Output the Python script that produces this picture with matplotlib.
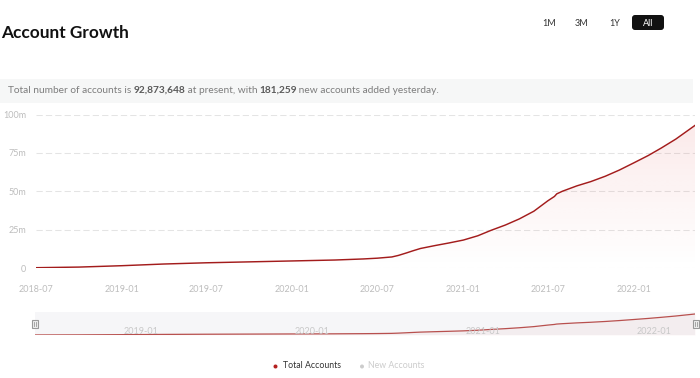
import matplotlib
matplotlib.use('Agg')
import matplotlib.pyplot as plt
import matplotlib.dates as mdates
import matplotlib.transforms as mtransforms
import numpy as np
import pandas as pd
from matplotlib.patches import Rectangle, FancyBboxPatch, Circle, PathPatch
from matplotlib.path import Path

plt.rcParams['font.family'] = ['Lato', 'DejaVu Sans']

# ---------------- data ----------------
dates = ['2018-07-01', '2018-10-01', '2019-01-01', '2019-04-01', '2019-07-01',
         '2019-10-01', '2020-01-01', '2020-04-01', '2020-06-01', '2020-07-01',
         '2020-08-01', '2020-08-15', '2020-09-01', '2020-09-15', '2020-10-01',
         '2020-11-01', '2020-12-01', '2021-01-01', '2021-02-01', '2021-03-01',
         '2021-04-01', '2021-05-01', '2021-06-01', '2021-07-01', '2021-07-15',
         '2021-07-20', '2021-08-01', '2021-09-01', '2021-10-01', '2021-11-01',
         '2021-12-01', '2022-01-01', '2022-02-01', '2022-03-01', '2022-04-01',
         '2022-05-12']
total_accounts_m = [0.2, 0.6, 1.5, 2.6, 3.4,
                    4.0, 4.6, 5.2, 5.9, 6.4,
                    7.2, 8.2, 9.8, 11.2, 12.7,
                    14.6, 16.3, 18.2, 21.0, 24.5,
                    28.0, 32.0, 37.0, 43.8, 46.6,
                    48.3, 50.0, 53.5, 56.3, 59.8,
                    63.8, 68.5, 73.3, 78.2, 84.0,
                    92.9]
y_ticks = [0, 25, 50, 75, 100]
y_tick_labels = ['0', '25m', '50m', '75m', '100m']
x_tick_dates = ['2018-07-01', '2019-01-01', '2019-07-01', '2020-01-01',
                '2020-07-01', '2021-01-01', '2021-07-01', '2022-01-01']
x_tick_labels = ['2018-07', '2019-01', '2019-07', '2020-01',
                 '2020-07', '2021-01', '2021-07', '2022-01']
nav_tick_dates = ['2019-01-01', '2020-01-01', '2021-01-01', '2022-01-01']
nav_tick_labels = ['2019-01', '2020-01', '2021-01', '2022-01']
range_buttons = ['1M', '3M', '1Y', 'All']
legend_labels = ['Total Accounts', 'New Accounts']
title = 'Account Growth'
total_now = '92,873,648'
new_yesterday = '181,259'

# ---------------- figure ----------------
W, H = 700, 378
fig = plt.figure(figsize=(W / 100, H / 100), dpi=100)
fig.patch.set_facecolor('white')

def fx(px):
    return px / W

def fy(py):
    return 1 - py / H

LINE = '#a31c1c'
TICKC = '#bdbdbd'

x = mdates.date2num(pd.to_datetime(dates))
y = np.array(total_accounts_m)

# main axes
ax = fig.add_axes([fx(36), fy(268), fx(695) - fx(36), fy(114.5) - fy(268)])
grad = np.linspace(0, 1, 256).reshape(-1, 1)
rgba = np.zeros((256, 1, 4))
rgba[..., 0] = 0.85
rgba[..., 1] = 0.2
rgba[..., 2] = 0.2
rgba[..., 3] = grad * 0.11
im = ax.imshow(rgba, extent=[x[0], x[-1], 0, 100], origin='lower',
               aspect='auto', zorder=1, interpolation='bilinear')
verts = list(zip(x, y)) + [(x[-1], 0), (x[0], 0), (x[0], y[0])]
poly = PathPatch(Path(verts), transform=ax.transData, facecolor='none',
                 edgecolor='none')
ax.add_patch(poly)
im.set_clip_path(poly)
for yt in y_ticks:
    ax.axhline(yt, color='#e4e4e4', lw=0.75, ls=(0, (6, 3)), zorder=0)
ax.plot(x, y, color=LINE, lw=1.05, zorder=3, solid_joinstyle='round')
ax.set_xlim(x[0], x[-1])
ax.set_ylim(0, 100)
ax.set_yticks(y_ticks, y_tick_labels)
ax.set_xticks(mdates.date2num(pd.to_datetime(x_tick_dates)), x_tick_labels)
ax.tick_params(axis='y', length=0, pad=7, labelsize=6.5, labelcolor=TICKC)
ax.tick_params(axis='x', length=0, pad=12, labelsize=6.5, labelcolor=TICKC)
for s in ax.spines.values():
    s.set_visible(False)
ax.patch.set_alpha(0)

# navigator axes
nav = fig.add_axes([fx(35), fy(335), fx(695) - fx(35), fy(312) - fy(335)])
nav.set_facecolor('#f6f6f8')
nav.fill_between(x, 0, y, color='#c0504d', alpha=0.05, lw=0)
nav.plot(x, y, color='#b8504e', lw=0.9)
nav.set_xlim(x[0], x[-1])
nav.set_ylim(0, 101.7)
nav.set_xticks([])
nav.set_yticks([])
for s in nav.spines.values():
    s.set_visible(False)
off = mtransforms.ScaledTranslation(3 / 100, 0, fig.dpi_scale_trans)
btr = mtransforms.blended_transform_factory(nav.transData, nav.transAxes) + off
for d, lab in zip(nav_tick_dates, nav_tick_labels):
    nav.text(mdates.date2num(pd.Timestamp(d)), 0.17, lab, transform=btr,
             ha='left', va='center', fontsize=6.5, color='#c8c8c8')

# decoration overlay (pixel coordinates)
deco = fig.add_axes([0, 0, 1, 1])
deco.set_xlim(0, W)
deco.set_ylim(H, 0)
deco.axis('off')
deco.patch.set_visible(False)

deco.text(1, 38, title, fontsize=12.4, fontweight='bold', color='#111111',
          ha='left', va='baseline')

# range buttons
btn_x = [549, 582, 615, 648]
for bx, lab in zip(btn_x, range_buttons):
    if lab == 'All':
        deco.add_patch(FancyBboxPatch((632, 15), 32, 15,
                                      boxstyle='round,pad=0,rounding_size=3',
                                      facecolor='#111111', edgecolor='none'))
        deco.text(bx, 23, lab, fontsize=6.5, color='white', ha='center',
                  va='center')
    else:
        deco.text(bx, 23, lab, fontsize=6.5, color='#333333', ha='center',
                  va='center')

# banner
deco.add_patch(Rectangle((0, 79), 693, 24, facecolor='#f6f7f7',
                         edgecolor='none'))
pieces = [('Total number of accounts is ', 'normal', '#7d7d7d'),
          (total_now, 'bold', '#5a5a5a'),
          (' at present, with ', 'normal', '#7d7d7d'),
          (new_yesterday, 'bold', '#5a5a5a'),
          (' new accounts added yesterday.', 'normal', '#7d7d7d')]
renderer = fig.canvas.get_renderer()
cx = 8
for txt, wt, col in pieces:
    t = deco.text(cx, 90.5, txt, fontsize=7.25, fontweight=wt, color=col,
                  ha='left', va='center')
    bb = t.get_window_extent(renderer=renderer)
    cx += bb.width - 0.5

# legend
deco.add_patch(Circle((275.5, 366.5), 2.0, facecolor='#b3201f',
                      edgecolor='none'))
deco.text(283, 366, legend_labels[0], fontsize=6.3, color='#333333',
          ha='left', va='center')
deco.add_patch(Circle((362, 366.5), 2.0, facecolor='#cccccc',
                      edgecolor='none'))
deco.text(367.5, 366, legend_labels[1], fontsize=6.3, color='#cccccc',
          ha='left', va='center')

# navigator handles
for hx in (31.5, 692.5):
    deco.add_patch(Rectangle((hx, 319.5), 6.5, 8, facecolor='#eeeeee',
                             edgecolor='#999999', lw=0.8))
    for lx in (hx + 2.3, hx + 4.2):
        deco.plot([lx, lx], [321.5, 325.5], color='#999999', lw=0.6)

fig.savefig('out.png', dpi=100)
